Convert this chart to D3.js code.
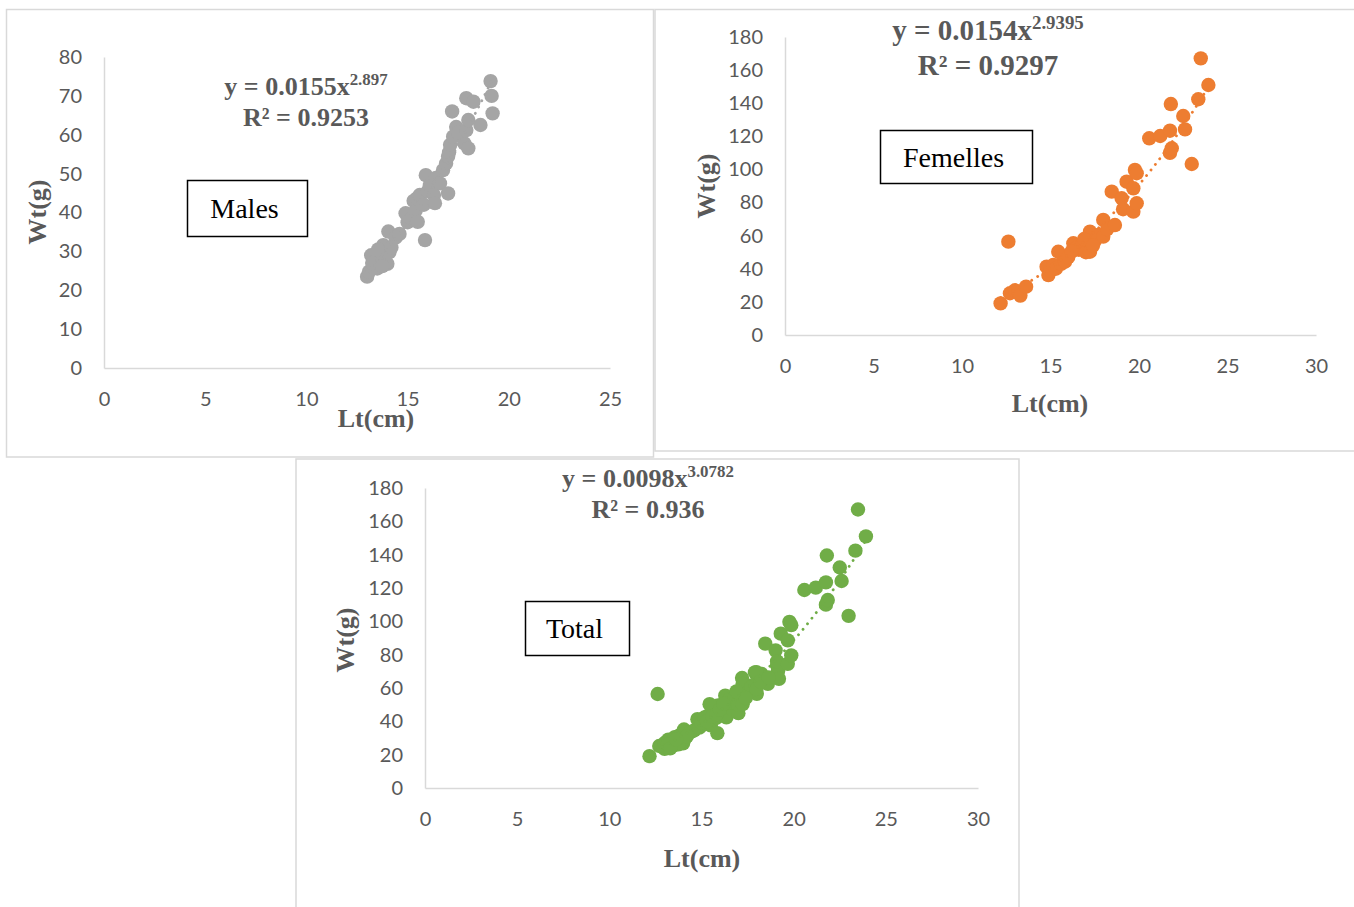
<!DOCTYPE html>
<html>
<head>
<meta charset="utf-8">
<script src="https://cdn.jsdelivr.net/npm/d3@7"></script>
<style>
  html, body { margin: 0; padding: 0; background: #ffffff; }
  svg { display: block; }
</style>
</head>
<body>
<svg id="chart" width="1354" height="907"></svg>
<script>
// ---------------- DATA ----------------
const malesLt = [13.0, 13.1, 13.2, 13.3, 13.4, 13.5, 13.6, 13.7, 13.8, 13.9, 14.0, 14.1, 14.05, 14.4, 14.6,
  14.9, 15.0, 15.2, 15.3, 15.4, 15.5, 15.45, 15.6, 15.86, 15.9, 15.8, 16.0, 16.1, 16.3, 16.35, 16.4, 16.6,
  16.75, 16.9, 17.0, 17.0, 17.05, 17.1, 17.2, 17.25, 17.4, 17.5, 17.8, 17.9, 17.9, 18.0, 18.0, 18.25,
  18.6, 19.1, 19.15, 19.2, 13.25, 13.55, 13.75, 14.2];
const malesWt = [23.5, 24.8, 29.0, 26.0, 27.5, 25.6, 28.8, 27.8, 31.6, 30.0, 26.8, 29.8, 35.1, 33.5, 34.5,
  39.8, 37.5, 38.5, 43.0, 40.5, 37.6, 43.6, 44.5, 32.9, 49.6, 42.0, 45.5, 47.0, 44.5, 42.4, 48.9, 47.5,
  50.9, 52.6, 44.9, 54.4, 55.5, 57.4, 66.0, 59.5, 62.0, 60.5, 57.8, 61.2, 69.4, 63.8, 56.5, 68.5,
  62.5, 73.8, 70.0, 65.5, 27.0, 30.5, 26.2, 31.0];

const femLt = [12.18, 12.62, 12.71, 13.0, 13.18, 13.3, 13.62, 14.78, 14.88, 15.0, 15.16, 15.3, 15.44, 15.6,
  15.82, 16.0, 16.29, 16.5, 16.6, 16.8, 17.04, 17.0, 17.23, 17.23, 17.5, 17.7, 17.98, 17.98, 18.2, 18.46,
  18.64, 19.02, 19.1, 19.3, 19.68, 19.68, 19.77, 19.87, 19.87, 20.58, 21.2, 21.75, 21.75, 21.85, 21.8,
  22.5, 22.6, 22.98, 23.35, 23.49, 23.92, 16.2, 16.9, 17.4];
const femWt = [19.1, 56.4, 25.2, 27.0, 26.2, 23.8, 29.2, 41.3, 36.2, 39.0, 42.3, 40.0, 50.3, 43.0,
  44.3, 47.0, 55.4, 53.0, 51.5, 54.5, 56.4, 50.0, 50.3, 62.4, 57.0, 60.5, 59.4, 69.5, 64.0, 86.6,
  66.4, 82.6, 76.0, 92.6, 74.5, 88.6, 99.7, 97.7, 79.6, 118.8, 120.2, 123.4, 110.0, 112.8, 139.5,
  132.3, 124.2, 103.3, 142.4, 167.1, 151.0, 50.5, 58.0, 54.0];

// Total = all fish (males + femelles), as seen in the third panel
const totalLt = malesLt.concat(femLt);
const totalWt = malesWt.concat(femWt);

const malesXTicks = [0, 5, 10, 15, 20, 25];
const malesYTicks = [0, 10, 20, 30, 40, 50, 60, 70, 80];
const bigXTicks = [0, 5, 10, 15, 20, 25, 30];
const bigYTicks = [0, 20, 40, 60, 80, 100, 120, 140, 160, 180];

// equations as printed on the chart
const malesEq = { coef: "0.0155", exp: "2.897", r2: "0.9253" };
const femEq = { coef: "0.0154", exp: "2.9395", r2: "0.9297" };
const totalEq = { coef: "0.0098", exp: "3.0782", r2: "0.936" };

const groupNames = ["Males", "Femelles", "Total"];
const xTitle = "Lt(cm)";
const yTitle = "Wt(g)";

// ---------------- DRAWING ----------------
const svg = d3.select("#chart");
const TXT = "#595959";
const AX = "#D9D9D9";
const SERIF = "'Liberation Serif', 'Times New Roman', serif";
const TICKFONT = "Lato, 'Open Sans', sans-serif";

// power trendline fitted to the plotted series (least squares on logs, like a spreadsheet)
function powerFit(xs, ys) {
  const lx = xs.map(Math.log), ly = ys.map(Math.log);
  const mx = d3.mean(lx), my = d3.mean(ly);
  let sxy = 0, sxx = 0;
  lx.forEach((v, i) => { sxy += (v - mx) * (ly[i] - my); sxx += (v - mx) * (v - mx); });
  const b = sxy / sxx;
  const a = Math.exp(my - b * mx);
  return { a, b };
}

// panel frames
svg.append("rect").attr("x", 6.5).attr("y", 9.5).attr("width", 647).attr("height", 447.5)
  .attr("fill", "none").attr("stroke", AX).attr("stroke-width", 1.5);
svg.append("rect").attr("x", 655).attr("y", 9.5).attr("width", 710).attr("height", 441.5)
  .attr("fill", "none").attr("stroke", AX).attr("stroke-width", 1.5);
svg.append("rect").attr("x", 296).attr("y", 459).attr("width", 723).attr("height", 470)
  .attr("fill", "#fff").attr("stroke", AX).attr("stroke-width", 1.5);

function drawPanel(cfg) {
  const g = svg.append("g");
  const x = d3.scaleLinear().domain(cfg.xDomain).range(cfg.xRange);
  const y = d3.scaleLinear().domain(cfg.yDomain).range(cfg.yRange);

  // axes
  const xa = g.append("g").attr("transform", `translate(0,${cfg.yRange[0]})`)
    .call(d3.axisBottom(x).tickValues(cfg.xTicks).tickSize(0).tickSizeOuter(0).tickPadding(24));
  const ya = g.append("g").attr("transform", `translate(${cfg.xRange[0]},0)`)
    .call(d3.axisLeft(y).tickValues(cfg.yTicks).tickSize(0).tickSizeOuter(0).tickPadding(22));
  [xa, ya].forEach(a => {
    a.select(".domain").attr("stroke", AX).attr("stroke-width", 1.5);
    a.selectAll("text").attr("fill", TXT).attr("font-family", TICKFONT).attr("font-size", 20);
  });

  // axis titles
  g.append("text").attr("x", cfg.xtX).attr("y", cfg.xtY)
    .attr("text-anchor", "middle").attr("fill", TXT).attr("font-family", SERIF)
    .attr("font-weight", "bold").attr("font-size", 26).text(xTitle);
  g.append("text").attr("transform", `translate(${cfg.ytX},${cfg.ytY}) rotate(-90)`)
    .attr("text-anchor", "middle").attr("dy", "0.35em").attr("fill", TXT).attr("font-family", SERIF)
    .attr("font-weight", "bold").attr("font-size", 26).text(yTitle);

  // points
  const pts = cfg.xs.map((v, i) => [v, cfg.ys[i]]);
  g.append("g").selectAll("circle").data(pts).join("circle")
    .attr("cx", d => x(d[0])).attr("cy", d => y(d[1])).attr("r", 7.2)
    .attr("fill", cfg.color);

  // power trendline (dotted)
  const fit = powerFit(cfg.xs, cfg.ys);
  const x0 = d3.min(cfg.xs), x1 = d3.max(cfg.xs);
  const curve = d3.range(0, 101).map(i => {
    const xv = x0 + (x1 - x0) * i / 100;
    return [xv, fit.a * Math.pow(xv, fit.b)];
  });
  g.append("path").datum(curve)
    .attr("d", d3.line().x(d => x(d[0])).y(d => y(d[1])))
    .attr("fill", "none").attr("stroke", cfg.color).attr("stroke-width", 2.8)
    .attr("stroke-linecap", "round").attr("stroke-dasharray", "0.1 7");

  // equation
  const fs = cfg.eqSize;
  const eq = g.append("text").attr("x", cfg.eqX).attr("y", cfg.eqY)
    .attr("text-anchor", "middle").attr("fill", TXT).attr("font-family", SERIF)
    .attr("font-weight", "bold").attr("font-size", fs);
  eq.append("tspan").text(`y = ${cfg.eq.coef}x`);
  eq.append("tspan").attr("font-size", fs * 0.65).attr("dy", -fs * 0.38).text(cfg.eq.exp);
  g.append("text").attr("x", cfg.eqX).attr("y", cfg.eqY + fs * 1.19)
    .attr("text-anchor", "middle").attr("fill", TXT).attr("font-family", SERIF)
    .attr("font-weight", "bold").attr("font-size", fs)
    .text(`R² = ${cfg.eq.r2}`);

  // label box
  g.append("rect").attr("x", cfg.box[0]).attr("y", cfg.box[1]).attr("width", cfg.box[2]).attr("height", cfg.box[3])
    .attr("fill", "#fff").attr("stroke", "#000").attr("stroke-width", 1.5);
  g.append("text").attr("x", cfg.box[0] + cfg.box[2] / 2 - 3).attr("y", cfg.box[1] + cfg.box[3] / 2)
    .attr("dy", "0.35em").attr("text-anchor", "middle").attr("fill", "#000")
    .attr("font-family", SERIF).attr("font-size", 28).text(cfg.name);
}

drawPanel({
  name: groupNames[0], xs: malesLt, ys: malesWt, eq: malesEq, color: "#A5A5A5",
  xDomain: [0, 25], xRange: [104, 610], yDomain: [0, 80], yRange: [368, 57],
  xTicks: malesXTicks, yTicks: malesYTicks,
  eqX: 306, eqY: 95, eqSize: 26, xtX: 376, xtY: 427, ytX: 37, ytY: 212,
  box: [187.5, 180.5, 120, 56]
});
drawPanel({
  name: groupNames[1], xs: femLt, ys: femWt, eq: femEq, color: "#ED7D31",
  xDomain: [0, 30], xRange: [785, 1316], yDomain: [0, 180], yRange: [335, 37],
  xTicks: bigXTicks, yTicks: bigYTicks,
  eqX: 988, eqY: 40, eqSize: 29, xtX: 1050, xtY: 412, ytX: 706, ytY: 186,
  box: [880.5, 130.5, 152, 53]
});
drawPanel({
  name: groupNames[2], xs: totalLt, ys: totalWt, eq: totalEq, color: "#70AD47",
  xDomain: [0, 30], xRange: [425, 978], yDomain: [0, 180], yRange: [788, 488],
  xTicks: bigXTicks, yTicks: bigYTicks,
  eqX: 648, eqY: 487, eqSize: 26, xtX: 702, xtY: 867, ytX: 345, ytY: 640,
  box: [525.5, 601.5, 104, 54]
});
</script>
</body>
</html>
